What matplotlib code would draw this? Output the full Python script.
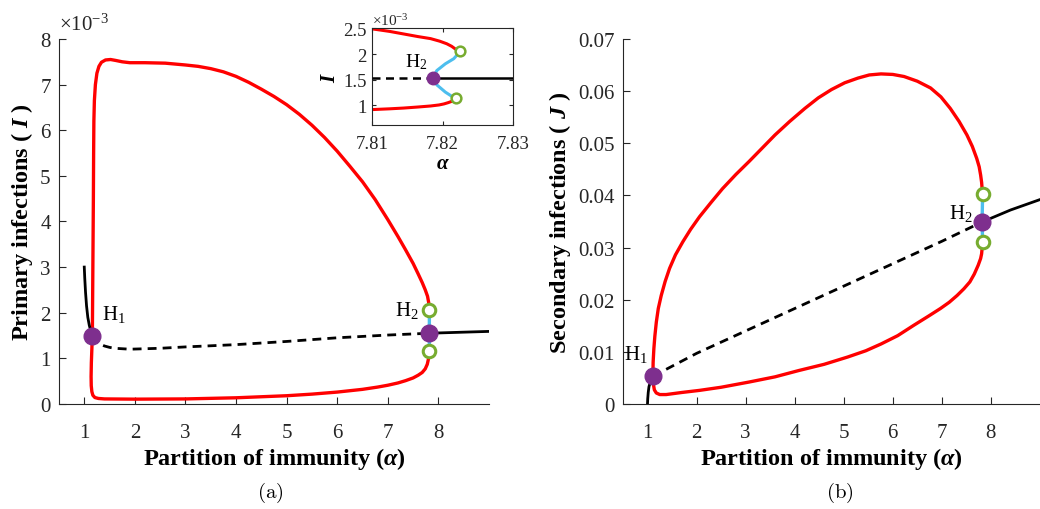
import matplotlib
matplotlib.use("Agg")
import matplotlib.pyplot as plt
import numpy as np

plt.rcParams['font.family'] = ['Liberation Serif', 'DejaVu Serif']
plt.rcParams['mathtext.fontset'] = 'custom'
plt.rcParams['mathtext.rm'] = 'Liberation Serif'
plt.rcParams['mathtext.it'] = 'Liberation Serif:italic:bold'
plt.rcParams['mathtext.bf'] = 'Liberation Serif:bold'

# ---------------- panel (a): primary infections I (x 1e-3) ----------------
a_eq_stable_lo = [1.00, 1.01, 1.025, 1.045, 1.07, 1.10, 1.13, 1.16]
I_eq_stable_lo = [3.00, 2.75, 2.45, 2.15, 1.90, 1.72, 1.60, 1.50]
a_eq_unstable = [1.16, 1.20, 1.25, 1.32, 1.40, 1.50, 1.60, 1.75, 1.90, 2.50, 3.00, 4.00,
                 5.00, 6.00, 7.00, 7.82]
I_eq_unstable = [1.50, 1.42, 1.36, 1.31, 1.27, 1.24, 1.22, 1.21, 1.20, 1.22, 1.25, 1.30,
                 1.37, 1.45, 1.51, 1.55]
a_eq_stable_hi = [7.82, 8.40, 9.00]
I_eq_stable_hi = [1.55, 1.57, 1.59]

a_max = [1.16, 1.17, 1.18, 1.185, 1.19, 1.20, 1.22, 1.25, 1.29, 1.34, 1.42, 1.52, 1.62,
         1.75, 1.90, 2.20, 2.60, 3.00, 3.25, 3.50, 3.75, 4.00, 4.25, 4.50, 4.75, 5.00,
         5.25, 5.50, 5.75, 6.00, 6.25, 6.50, 6.75, 7.00, 7.20, 7.35, 7.50, 7.60, 7.68,
         7.74, 7.785, 7.808, 7.822]
I_max = [1.50, 3.00, 4.50, 5.50, 6.20, 6.65, 7.00, 7.25, 7.40, 7.49, 7.54, 7.55, 7.53,
         7.50, 7.48, 7.48, 7.47, 7.43, 7.40, 7.35, 7.28, 7.18, 7.05, 6.90, 6.74, 6.56,
         6.35, 6.11, 5.84, 5.54, 5.21, 4.87, 4.48, 4.04, 3.67, 3.38, 3.08, 2.85, 2.66,
         2.50, 2.36, 2.22, 2.06]
a_min = [1.16, 1.15, 1.14, 1.135, 1.138, 1.15, 1.17, 1.21, 1.28, 1.40, 2.00, 3.00, 4.00,
         5.00, 5.50, 6.00, 6.50, 6.80, 7.00, 7.20, 7.35, 7.50, 7.60, 7.68, 7.74, 7.78,
         7.80, 7.815, 7.822]
I_min = [1.50, 1.20, 0.90, 0.60, 0.40, 0.27, 0.19, 0.14, 0.12, 0.11, 0.105, 0.11, 0.135,
         0.18, 0.215, 0.26, 0.32, 0.37, 0.41, 0.46, 0.51, 0.57, 0.63, 0.69, 0.77, 0.87,
         0.97, 1.06, 1.16]

H1_a, H1_I = 1.16, 1.50
H2_a, H2_I = 7.82, 1.55
LP_a = [7.822, 7.822]
LP_I = [2.06, 1.16]

# inset: zoom near H2
ins_a_eq = [7.81, 7.8186, 7.83]
ins_I_eq = [1.53, 1.53, 1.53]
ins_a_max = [7.81, 7.8125, 7.8145, 7.8165, 7.8183, 7.8196, 7.8206, 7.8213, 7.8218, 7.8225]
ins_I_max = [2.49, 2.44, 2.39, 2.34, 2.30, 2.25, 2.20, 2.15, 2.10, 2.05]
ins_a_min = [7.81, 7.8125, 7.8145, 7.8165, 7.8183, 7.8195, 7.8202, 7.8208, 7.8213, 7.8219]
ins_I_min = [0.92, 0.935, 0.95, 0.97, 0.99, 1.01, 1.03, 1.055, 1.08, 1.14]
ins_a_up = [7.8186, 7.8192, 7.8204, 7.8216, 7.8225]
ins_I_up = [1.53, 1.68, 1.81, 1.91, 2.05]
ins_a_dn = [7.8186, 7.8192, 7.8204, 7.8213, 7.8219]
ins_I_dn = [1.53, 1.40, 1.26, 1.18, 1.14]

# ---------------- panel (b): secondary infections J ----------------
b_eq_stable_lo = [1.00, 1.005, 1.015, 1.03, 1.06, 1.11]
J_eq_stable_lo = [0.0000, 0.0010, 0.0022, 0.0033, 0.0043, 0.0053]
b_eq_unstable = [1.11, 2.0, 3.0, 4.0, 5.0, 6.0, 7.0, 7.82]
J_eq_unstable = [0.0053, 0.0097, 0.0140, 0.0183, 0.0226, 0.0269, 0.0312, 0.0349]
b_eq_stable_hi = [7.82, 8.40, 9.00]
J_eq_stable_hi = [0.0349, 0.0372, 0.0392]

b_max = [1.11, 1.115, 1.13, 1.15, 1.18, 1.22, 1.28, 1.36, 1.45, 1.57, 1.72, 1.88, 2.06,
         2.30, 2.53, 2.80, 3.07, 3.33, 3.60, 3.90, 4.21, 4.48, 4.75, 5.02, 5.29, 5.52,
         5.76, 6.00, 6.23, 6.50, 6.77, 6.98, 7.17, 7.35, 7.51, 7.62, 7.71, 7.76, 7.79,
         7.81, 7.82, 7.83]
J_max = [0.0053, 0.0080, 0.0106, 0.0130, 0.0157, 0.0183, 0.0208, 0.0235, 0.0260, 0.0286,
         0.0311, 0.0335, 0.0359, 0.0387, 0.0413, 0.0440, 0.0465, 0.0490, 0.0516, 0.0542,
         0.0567, 0.0587, 0.0603, 0.0616, 0.0625, 0.0631, 0.0633, 0.0632, 0.0628, 0.0619,
         0.0606, 0.0589, 0.0567, 0.0542, 0.0516, 0.0494, 0.0471, 0.0455, 0.0439, 0.0425,
         0.0413, 0.0402]
b_min = [1.11, 1.12, 1.14, 1.18, 1.25, 1.38, 1.70, 2.06, 2.50, 3.07, 3.60, 4.08, 4.60,
         5.08, 5.45, 5.76, 6.10, 6.43, 6.72, 6.97, 7.15, 7.31, 7.45, 7.57, 7.66, 7.74,
         7.79, 7.81, 7.82, 7.83]
J_min = [0.0053, 0.0038, 0.0027, 0.0021, 0.0018, 0.0018, 0.0022, 0.0026, 0.0032, 0.0042,
         0.0052, 0.0064, 0.0076, 0.0090, 0.0102, 0.0115, 0.0131, 0.0151, 0.0168, 0.0183,
         0.0195, 0.0208, 0.0221, 0.0234, 0.0249, 0.0266, 0.0279, 0.0288, 0.0298, 0.0311]

bH1_a, bH1_J = 1.11, 0.0053
bH2_a, bH2_J = 7.82, 0.0349
bLP_a = [7.83, 7.83]
bLP_J = [0.0402, 0.0311]

RED = '#FF0000'
BLUE = '#4DBEEE'
GREEN = '#77AC30'
PURPLE = '#7E2F8E'
AXC = '#262626'
DASH = (0, (3.2, 2.2))

fig = plt.figure(figsize=(10.4, 5.1), dpi=100)


def style_axes(ax, box=False, size=15, xpad=14, ypad=6):
    for s in ['left', 'bottom', 'top', 'right']:
        ax.spines[s].set_color(AXC)
        ax.spines[s].set_linewidth(0.8)
    if not box:
        ax.spines['top'].set_visible(False)
        ax.spines['right'].set_visible(False)
    ax.tick_params(direction='in', length=5, width=0.8, colors=AXC,
                   labelsize=size, labelcolor=AXC, top=box, right=box)
    ax.tick_params(axis='x', pad=xpad)
    ax.tick_params(axis='y', pad=ypad)


# ----- panel (a) -----
axA = fig.add_axes([0.0567, 0.206, 0.4135, 0.7156])
axA.plot(a_max, I_max, color=RED, lw=2.4, zorder=2, solid_joinstyle='round')
axA.plot(a_min, I_min, color=RED, lw=2.4, zorder=2, solid_joinstyle='round')
axA.plot(a_eq_stable_lo, I_eq_stable_lo, color='k', lw=2.0, zorder=3)
axA.plot(a_eq_unstable, I_eq_unstable, color='k', lw=2.0, ls=DASH, zorder=3)
axA.plot(a_eq_stable_hi, I_eq_stable_hi, color='k', lw=2.0, zorder=3)
axA.plot([LP_a[0], H2_a, LP_a[1]], [LP_I[0], H2_I, LP_I[1]], color=BLUE, lw=2.4, zorder=3)
axA.plot(LP_a, LP_I, ls='none', marker='o', ms=9, mfc='white', mec=GREEN, mew=2.2, zorder=5)
axA.plot([H1_a, H2_a], [H1_I, H2_I], ls='none', marker='o', ms=12, color=PURPLE, zorder=6)
axA.text(1.36, 1.76, r'H$_\mathrm{1}$', fontsize=15, ha='left', va='bottom')
axA.text(7.15, 1.83, r'H$_\mathrm{2}$', fontsize=15, ha='left', va='bottom')
axA.set_xlim(0.5, 9)
axA.set_ylim(0, 8)
axA.set_xticks(range(1, 9))
axA.set_yticks(range(0, 9))
style_axes(axA)
axA.set_xlabel(r'Partition of immunity ($\alpha$)', fontsize=17.5, fontweight='bold', labelpad=2)
axA.set_ylabel(r'Primary infections ( $I$ )', fontsize=17.5, fontweight='bold', labelpad=4)
axA.text(0.0, 1.012, r'$\times\mathrm{10}^{\mathrm{-3}}$', transform=axA.transAxes,
         fontsize=15, ha='left', va='bottom', color=AXC)
fig.text(0.26, 0.033, r'$\mathrm{(a)}$', fontsize=15, ha='center', va='center',
         math_fontfamily='cm')

# inset near H2
axI = fig.add_axes([0.3577, 0.7529, 0.1356, 0.1896])
axI.plot(ins_a_max, ins_I_max, color=RED, lw=2.2, zorder=2)
axI.plot(ins_a_min, ins_I_min, color=RED, lw=2.2, zorder=2)
axI.plot(ins_a_eq[:2], ins_I_eq[:2], color='k', lw=1.8, ls=DASH, zorder=3)
axI.plot(ins_a_eq[1:], ins_I_eq[1:], color='k', lw=1.8, zorder=3)
axI.plot(ins_a_up, ins_I_up, color=BLUE, lw=2.2, zorder=3)
axI.plot(ins_a_dn, ins_I_dn, color=BLUE, lw=2.2, zorder=3)
axI.plot([ins_a_up[-1], ins_a_dn[-1]], [ins_I_up[-1], ins_I_dn[-1]], ls='none', marker='o',
         ms=7, mfc='white', mec=GREEN, mew=1.8, zorder=5)
axI.plot([ins_a_eq[1]], [ins_I_eq[1]], ls='none', marker='o', ms=9, color=PURPLE, zorder=6)
axI.text(7.8162, 1.68, r'H$_\mathrm{2}$', fontsize=14, ha='center', va='bottom')
axI.set_xlim(7.81, 7.83)
axI.set_ylim(0.62, 2.5)
axI.set_xticks([7.81, 7.82, 7.83])
axI.set_xticklabels(['7.81', '7.82', '7.83'])
axI.set_yticks([1, 1.5, 2, 2.5])
axI.set_yticklabels(['1', '1.5', '2', '2.5'])
style_axes(axI, box=True, size=13.5, xpad=7.5, ypad=4)
axI.tick_params(length=3)
axI.set_xlabel(r'$\alpha$', fontsize=15, labelpad=1)
axI.set_ylabel(r'$I$', fontsize=15, labelpad=2)
axI.text(0.0, 1.0, r'$\times\mathrm{10}^{\mathrm{-3}}$', transform=axI.transAxes,
         fontsize=11, ha='left', va='bottom', color=AXC)

# ----- panel (b) -----
axB = fig.add_axes([0.599, 0.206, 0.401, 0.7156])
axB.plot(b_max, J_max, color=RED, lw=2.4, zorder=2, solid_joinstyle='round')
axB.plot(b_min, J_min, color=RED, lw=2.4, zorder=2, solid_joinstyle='round')
axB.plot(b_eq_stable_lo, J_eq_stable_lo, color='k', lw=2.0, zorder=3)
axB.plot(b_eq_unstable, J_eq_unstable, color='k', lw=2.0, ls=DASH, zorder=3)
axB.plot(b_eq_stable_hi, J_eq_stable_hi, color='k', lw=2.0, zorder=3)
axB.plot([bLP_a[0], bH2_a, bLP_a[1]], [bLP_J[0], bH2_J, bLP_J[1]], color=BLUE, lw=2.4, zorder=3)
axB.plot(bLP_a, bLP_J, ls='none', marker='o', ms=9, mfc='white', mec=GREEN, mew=2.2, zorder=5)
axB.plot([bH1_a, bH2_a], [bH1_J, bH2_J], ls='none', marker='o', ms=12, color=PURPLE, zorder=6)
axB.text(0.53, 0.0076, r'H$_\mathrm{1}$', fontsize=15, ha='left', va='bottom')
axB.text(7.15, 0.0348, r'H$_\mathrm{2}$', fontsize=15, ha='left', va='bottom')
axB.set_xlim(0.5, 9)
axB.set_ylim(0, 0.07)
axB.set_xticks(range(1, 9))
axB.set_yticks(np.arange(0, 0.0701, 0.01))
axB.set_yticklabels(['0', '0.01', '0.02', '0.03', '0.04', '0.05', '0.06', '0.07'])
style_axes(axB)
axB.set_xlabel(r'Partition of immunity ($\alpha$)', fontsize=17.5, fontweight='bold', labelpad=2)
axB.set_ylabel(r'Secondary infections ( $J$ )', fontsize=17.5, fontweight='bold', labelpad=4)
fig.text(0.808, 0.033, r'$\mathrm{(b)}$', fontsize=15, ha='center', va='center',
         math_fontfamily='cm')

fig.savefig('out.png', dpi=100)
